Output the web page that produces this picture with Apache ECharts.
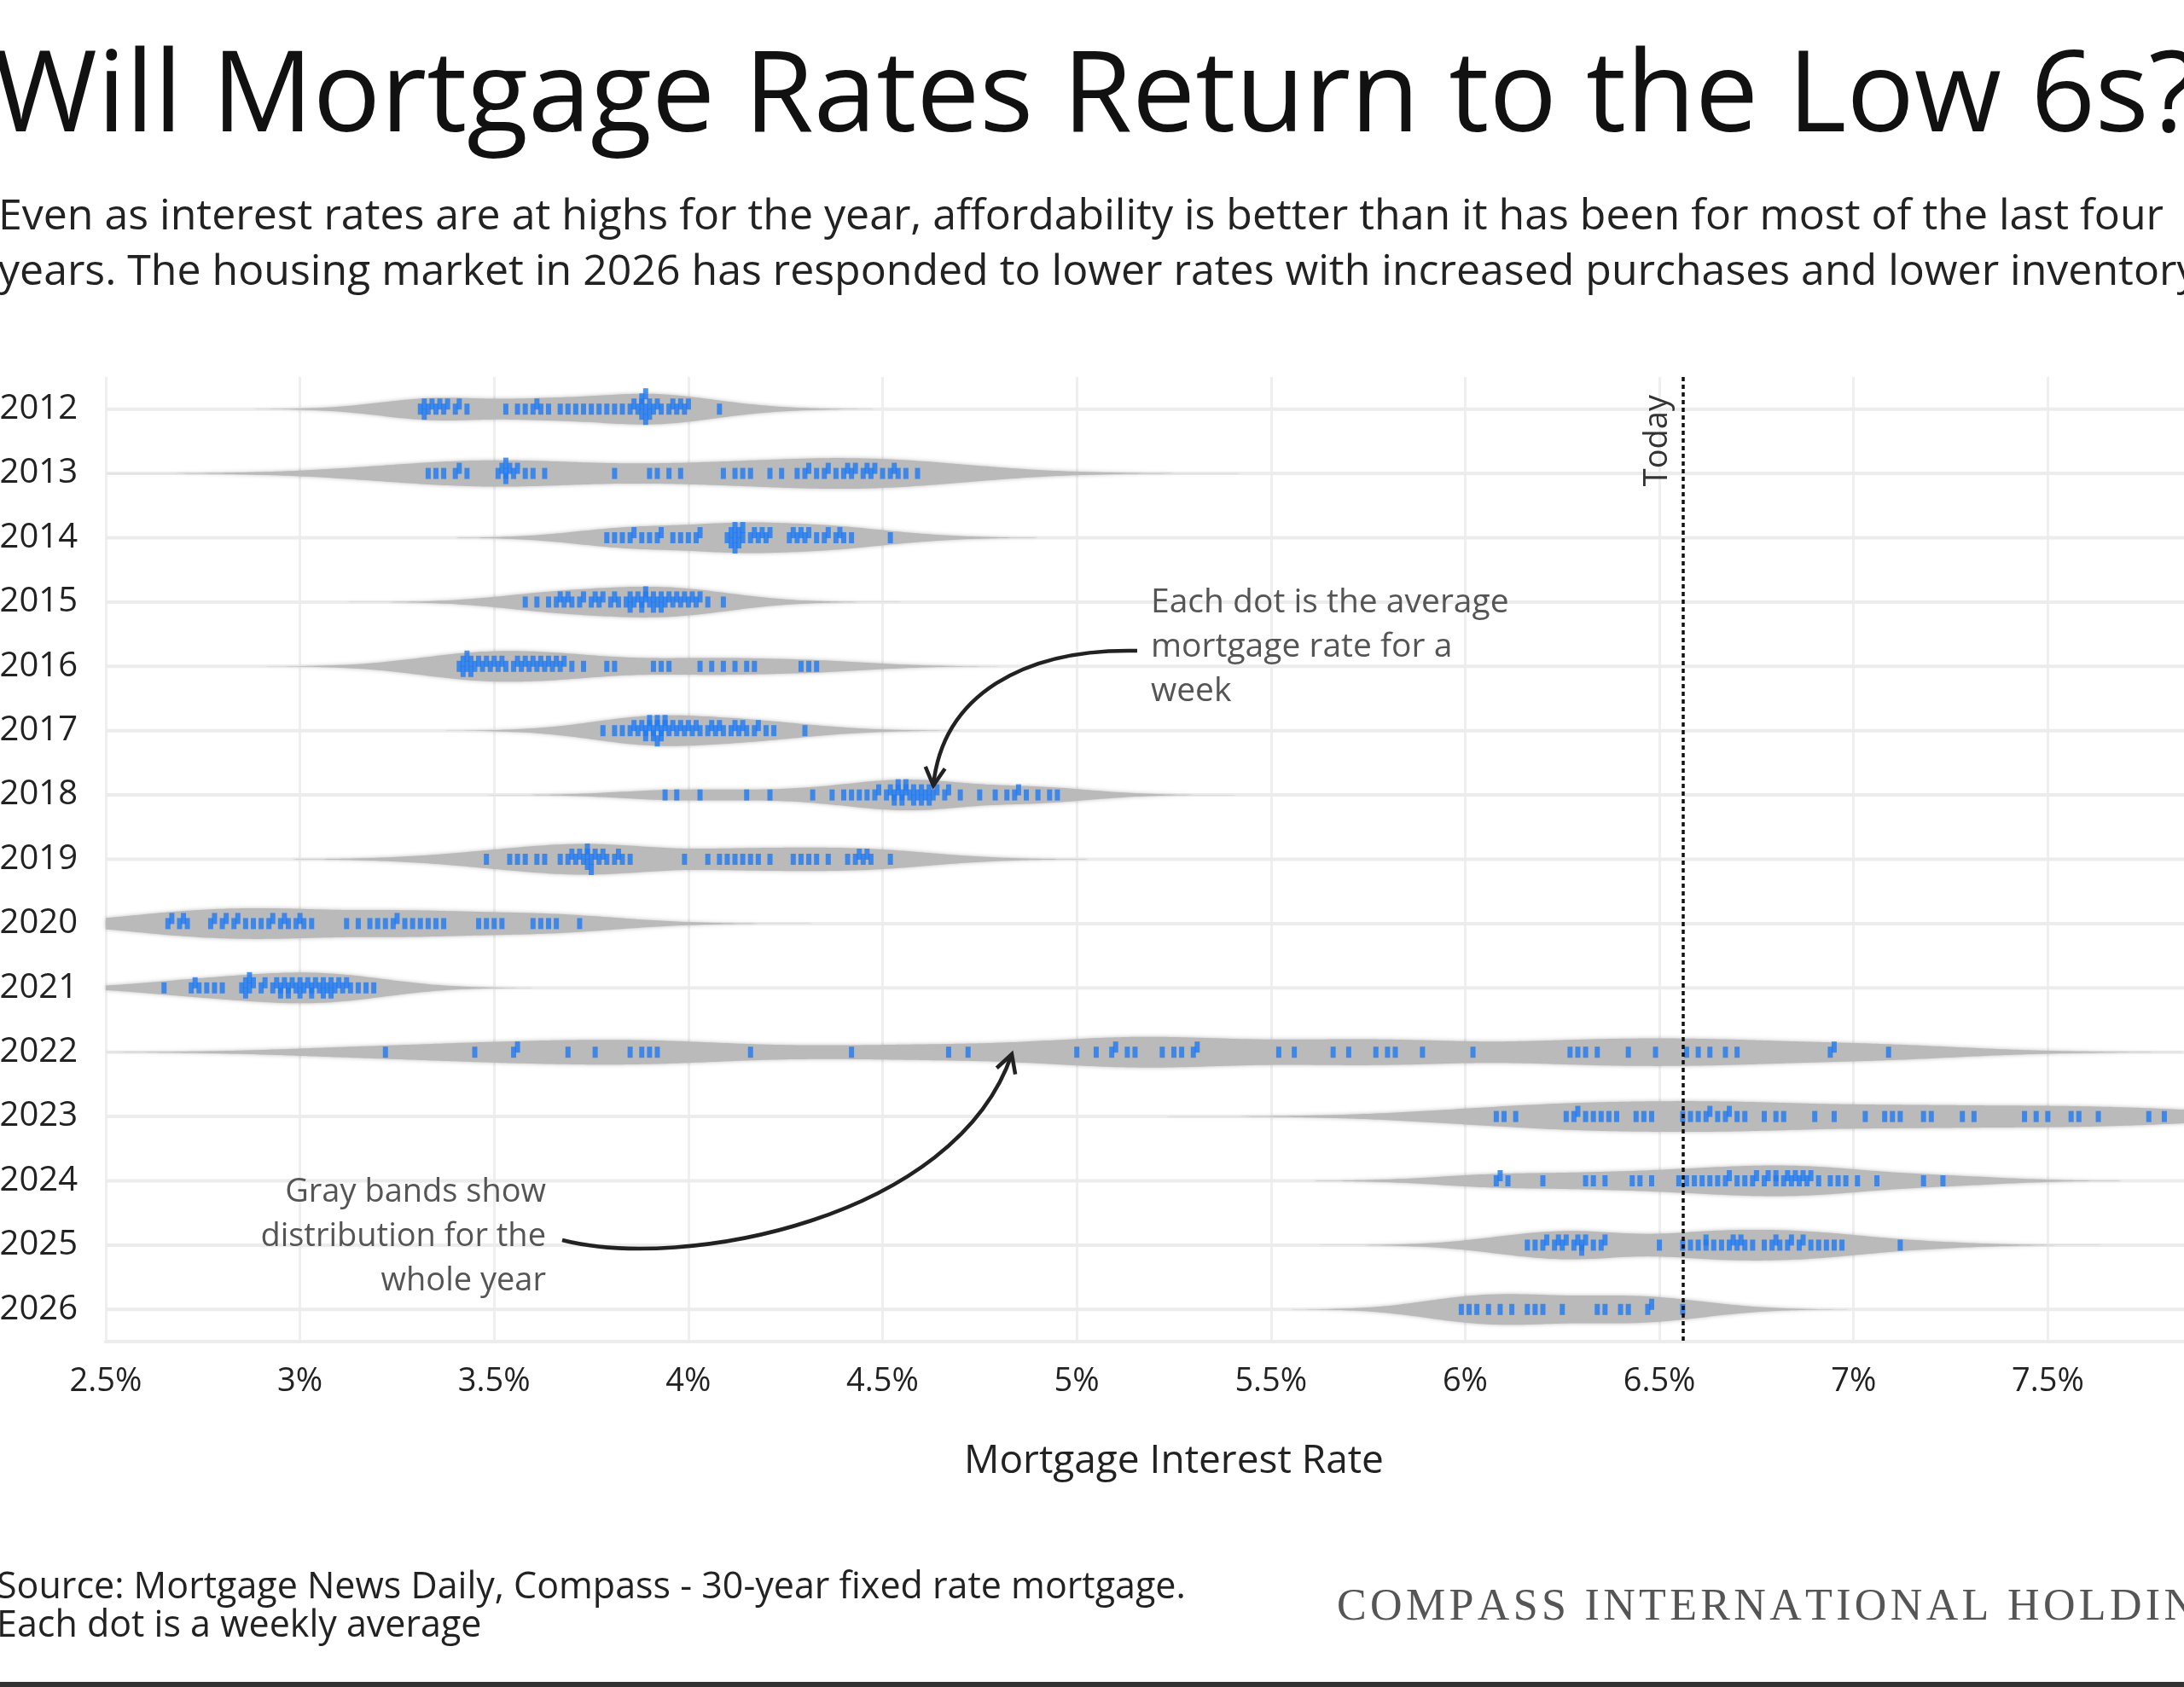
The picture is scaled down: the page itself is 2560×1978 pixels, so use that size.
<!DOCTYPE html>
<html>
<head>
<meta charset="utf-8">
<title>Will Mortgage Rates Return to the Low 6s?</title>
<script src="https://cdn.jsdelivr.net/npm/echarts@6/dist/echarts.min.js"></script>
<style>
    html, body { margin: 0; padding: 0; background: #fff; }
    #chart { width: 2560px; height: 1978px; }
</style>
</head>
<body>
<div id="chart"></div>
<script>
// categories
let years = ['2012', '2013', '2014', '2015', '2016', '2017', '2018', '2019', '2020', '2021', '2022', '2023', '2024', '2025', '2026'];

// weekly average 30-year fixed rates (%)
let rates2012 = [3.31, 3.32, 3.32, 3.33, 3.34, 3.35, 3.36, 3.37, 3.38, 3.40, 3.41, 3.43, 3.53, 3.56, 3.58, 3.60, 3.61, 3.62, 3.64, 3.67,
    3.69, 3.71, 3.73, 3.75, 3.77, 3.79, 3.81, 3.83, 3.85, 3.86, 3.87, 3.88, 3.88, 3.88, 3.89, 3.89, 3.89, 3.90, 3.90, 3.91,
    3.92, 3.93, 3.95, 3.96, 3.97, 3.98, 3.99, 4.00, 4.08];
let rates2013 = [3.33, 3.35, 3.37, 3.40, 3.41, 3.43, 3.51, 3.52, 3.53, 3.53, 3.53, 3.54, 3.55, 3.56, 3.58, 3.60, 3.63, 3.81, 3.90, 3.92,
    3.95, 3.98, 4.09, 4.12, 4.14, 4.16, 4.21, 4.24, 4.28, 4.30, 4.31, 4.33, 4.35, 4.36, 4.38, 4.40, 4.41, 4.42, 4.43, 4.45,
    4.46, 4.47, 4.48, 4.50, 4.52, 4.53, 4.54, 4.56, 4.59];
let rates2014 = [3.79, 3.81, 3.83, 3.85, 3.86, 3.88, 3.90, 3.92, 3.93, 3.96, 3.98, 4.00, 4.02, 4.03, 4.10, 4.11, 4.11, 4.12, 4.12, 4.12,
    4.13, 4.13, 4.14, 4.14, 4.16, 4.17, 4.18, 4.19, 4.20, 4.21, 4.26, 4.27, 4.28, 4.29, 4.30, 4.31, 4.33, 4.35, 4.36, 4.38,
    4.39, 4.40, 4.42, 4.52];
let rates2015 = [3.58, 3.61, 3.64, 3.66, 3.67, 3.68, 3.69, 3.70, 3.72, 3.73, 3.75, 3.76, 3.77, 3.78, 3.80, 3.81, 3.82, 3.84, 3.85, 3.85,
    3.86, 3.87, 3.88, 3.88, 3.89, 3.89, 3.90, 3.91, 3.91, 3.92, 3.93, 3.93, 3.94, 3.95, 3.96, 3.97, 3.98, 3.99, 4.00, 4.01,
    4.02, 4.03, 4.05, 4.09];
let rates2016 = [3.41, 3.42, 3.42, 3.43, 3.43, 3.44, 3.44, 3.45, 3.46, 3.47, 3.48, 3.49, 3.50, 3.51, 3.52, 3.53, 3.55, 3.56, 3.57, 3.58,
    3.59, 3.60, 3.61, 3.62, 3.63, 3.64, 3.65, 3.66, 3.67, 3.68, 3.70, 3.73, 3.79, 3.81, 3.91, 3.93, 3.95, 4.03, 4.06, 4.09,
    4.12, 4.15, 4.17, 4.29, 4.31, 4.33];
let rates2017 = [3.78, 3.81, 3.83, 3.85, 3.86, 3.87, 3.88, 3.89, 3.89, 3.90, 3.90, 3.91, 3.91, 3.92, 3.92, 3.92, 3.93, 3.93, 3.94, 3.94,
    3.95, 3.96, 3.97, 3.98, 3.99, 4.00, 4.01, 4.02, 4.03, 4.05, 4.06, 4.07, 4.08, 4.09, 4.11, 4.12, 4.13, 4.14, 4.15, 4.17,
    4.18, 4.20, 4.22, 4.30];
let rates2018 = [3.94, 3.97, 4.03, 4.15, 4.21, 4.32, 4.37, 4.40, 4.42, 4.44, 4.46, 4.48, 4.49, 4.51, 4.52, 4.53, 4.53, 4.54, 4.54, 4.55,
    4.55, 4.56, 4.56, 4.57, 4.58, 4.58, 4.59, 4.60, 4.60, 4.61, 4.62, 4.62, 4.63, 4.64, 4.66, 4.67, 4.70, 4.75, 4.79, 4.82,
    4.84, 4.85, 4.87, 4.90, 4.93, 4.95];
let rates2019 = [3.48, 3.54, 3.56, 3.58, 3.61, 3.63, 3.67, 3.69, 3.70, 3.71, 3.72, 3.73, 3.74, 3.74, 3.74, 3.75, 3.75, 3.76, 3.77, 3.78,
    3.79, 3.81, 3.82, 3.83, 3.85, 3.99, 4.05, 4.08, 4.10, 4.12, 4.14, 4.16, 4.18, 4.21, 4.27, 4.29, 4.31, 4.33, 4.36, 4.41,
    4.43, 4.44, 4.45, 4.46, 4.47, 4.52];
let rates2020 = [2.66, 2.67, 2.69, 2.70, 2.71, 2.77, 2.78, 2.80, 2.81, 2.83, 2.84, 2.86, 2.88, 2.90, 2.92, 2.93, 2.95, 2.96, 2.97, 2.99,
    3.00, 3.01, 3.03, 3.12, 3.15, 3.18, 3.20, 3.22, 3.24, 3.25, 3.27, 3.29, 3.31, 3.33, 3.35, 3.37, 3.46, 3.48, 3.50, 3.52,
    3.60, 3.62, 3.64, 3.66, 3.72];
let rates2021 = [2.65, 2.72, 2.73, 2.74, 2.76, 2.78, 2.80, 2.85, 2.86, 2.86, 2.87, 2.87, 2.88, 2.90, 2.91, 2.93, 2.94, 2.95, 2.95, 2.96,
    2.97, 2.97, 2.98, 2.99, 3.00, 3.00, 3.01, 3.02, 3.03, 3.03, 3.04, 3.05, 3.06, 3.06, 3.07, 3.08, 3.08, 3.09, 3.10, 3.11,
    3.12, 3.13, 3.15, 3.17, 3.19];
let rates2022 = [3.22, 3.45, 3.55, 3.56, 3.69, 3.76, 3.85, 3.88, 3.90, 3.92, 4.16, 4.42, 4.67, 4.72, 5.00, 5.05, 5.09, 5.10, 5.13, 5.15,
    5.22, 5.25, 5.27, 5.30, 5.31, 5.52, 5.56, 5.66, 5.70, 5.77, 5.80, 5.82, 5.89, 6.02, 6.27, 6.29, 6.31, 6.34, 6.42, 6.49,
    6.57, 6.60, 6.63, 6.67, 6.70, 6.94, 6.95, 7.09];
let rates2023 = [6.08, 6.10, 6.13, 6.26, 6.28, 6.29, 6.31, 6.33, 6.35, 6.37, 6.39, 6.44, 6.46, 6.48, 6.56, 6.58, 6.60, 6.62, 6.63, 6.65,
    6.67, 6.68, 6.70, 6.72, 6.77, 6.80, 6.82, 6.90, 6.95, 7.03, 7.08, 7.10, 7.12, 7.18, 7.20, 7.28, 7.31, 7.44, 7.47, 7.50,
    7.56, 7.58, 7.63, 7.76, 7.80];
let rates2024 = [6.08, 6.09, 6.11, 6.20, 6.31, 6.33, 6.36, 6.43, 6.45, 6.48, 6.55, 6.57, 6.59, 6.61, 6.63, 6.65, 6.67, 6.68, 6.70, 6.72,
    6.74, 6.75, 6.77, 6.78, 6.80, 6.80, 6.82, 6.83, 6.84, 6.85, 6.86, 6.87, 6.88, 6.89, 6.91, 6.94, 6.96, 6.98, 7.01, 7.06,
    7.18, 7.23];
let rates2025 = [6.16, 6.18, 6.20, 6.21, 6.23, 6.24, 6.25, 6.26, 6.28, 6.29, 6.30, 6.30, 6.31, 6.33, 6.35, 6.36, 6.50, 6.56, 6.58, 6.60,
    6.62, 6.62, 6.64, 6.66, 6.68, 6.69, 6.70, 6.71, 6.72, 6.74, 6.77, 6.79, 6.80, 6.81, 6.83, 6.84, 6.86, 6.87, 6.89, 6.91,
    6.93, 6.95, 6.97, 7.12];
let rates2026 = [5.99, 6.01, 6.03, 6.06, 6.09, 6.12, 6.16, 6.18, 6.20, 6.25, 6.34, 6.36, 6.40, 6.42, 6.47, 6.48, 6.56];

let ratesByYear = [rates2012, rates2013, rates2014, rates2015, rates2016, rates2017, rates2018, rates2019,
    rates2020, rates2021, rates2022, rates2023, rates2024, rates2025, rates2026];

// axis: 2.5% .. 8% every 0.5%
let rateMin = 2.5;
let rateMax = 8;
let rateStep = 0.5;
let todayRate = 6.56;

let titleText = 'Will Mortgage Rates Return to the Low 6s?';
let subtitleText = 'Even as interest rates are at highs for the year, affordability is better than it has been for most of the last four\n' +
    'years. The housing market in 2026 has responded to lower rates with increased purchases and lower inventory.';
let sourceText = 'Source: Mortgage News Daily, Compass - 30-year fixed rate mortgage.\nEach dot is a weekly average';
// hair spaces give the wordmark its wide tracking
let brandText = 'COMPASS INTERNATIONAL HOLDINGS'.split('').join('\u200A');

let fontSans = '"Open Sans", Lato, sans-serif';
let blue = '#1f7bf2';
let gray = '#bababa';

// gray bands: gaussian kernel density of each year's weeks
let bandXs = [];
for (let k = 0; k <= Math.round((rateMax - rateMin) / 0.01); k++) {
    bandXs.push(rateMin + k * 0.01);
}
let bandHalf = 18;
let bandPow = 0.5;

function densityOf(values) {
    let n = values.length;
    let mean = values.reduce((a, b) => a + b, 0) / n;
    let sd = Math.sqrt(values.reduce((a, b) => a + (b - mean) * (b - mean), 0) / (n - 1));
    let bw = Math.max(0.1, Math.min(0.9 * sd * Math.pow(n, -0.2), 0.18));
    let d = bandXs.map(x => {
        let s = 0;
        values.forEach(v => { s += Math.exp(-0.5 * Math.pow((x - v) / bw, 2)); });
        return s;
    });
    let max = Math.max.apply(null, d);
    return d.map(v => v / max);
}
let bandDensity = ratesByYear.map(densityOf);

// little beeswarm so close weeks stack up instead of hiding each other
function swarm(values, yearIndex) {
    let placed = [];
    let sorted = values.slice().sort((a, b) => a - b);
    return sorted.map(v => {
        let level = 0;
        for (let step = 0; step < 20; step++) {
            let cand = step === 0 ? 0 : (step % 2 === 1 ? (step + 1) / 2 : -step / 2);
            let hit = placed.some(p => p.level === cand && Math.abs(p.v - v) < 0.013);
            if (!hit) { level = cand; break; }
        }
        placed.push({v: v, level: level});
        return {value: [v, yearIndex], symbolOffset: [0, -level * 6]};
    });
}
let dotData = [];
ratesByYear.forEach((vals, i) => { dotData = dotData.concat(swarm(vals, i)); });

function renderBand(params, api) {
    let i = api.value(1);
    let dens = bandDensity[i];
    let top = [];
    let bottom = [];
    for (let k = 0; k < bandXs.length; k++) {
        let p = api.coord([bandXs[k], i]);
        let h = bandHalf * Math.pow(dens[k], bandPow);
        top.push([p[0], p[1] - h]);
        bottom.unshift([p[0], p[1] + h]);
    }
    return {
        type: 'polygon',
        shape: {points: top.concat(bottom)},
        style: {fill: gray, shadowBlur: 5, shadowColor: 'rgba(0,0,0,0.25)'}
    };
}

function renderRowLine(params, api) {
    let i = api.value(1);
    let y = api.coord([rateMin, i])[1];
    let cs = params.coordSys;
    return {
        type: 'line',
        shape: {x1: cs.x, y1: y, x2: cs.x + cs.width, y2: y},
        style: {stroke: '#ececec', lineWidth: 4}
    };
}

function arrow(p0, c1, c2, p3) {
    let ang = Math.atan2(p3[1] - c2[1], p3[0] - c2[0]);
    let len = 24;
    let spread = 0.5;
    let a = [p3[0] - len * Math.cos(ang - spread), p3[1] - len * Math.sin(ang - spread)];
    let b = [p3[0] - len * Math.cos(ang + spread), p3[1] - len * Math.sin(ang + spread)];
    return [{
        type: 'bezierCurve',
        shape: {x1: p0[0], y1: p0[1], cpx1: c1[0], cpy1: c1[1], cpx2: c2[0], cpy2: c2[1], x2: p3[0], y2: p3[1]},
        style: {stroke: '#222', lineWidth: 4.5, fill: 'none'},
        z: 20
    }, {
        type: 'polyline',
        shape: {points: [a, p3, b]},
        style: {stroke: '#222', lineWidth: 4.5, fill: 'none'},
        z: 20
    }];
}

let chart = echarts.init(document.getElementById('chart'));
let rowIndex = years.map((y, i) => [ratesByYear[i][0], i]);

let option = {
    animation: false,
    backgroundColor: '#fff',
    textStyle: {fontFamily: fontSans},
    title: [{
        text: titleText, left: -8, top: 50, padding: 0,
        textStyle: {fontFamily: fontSans, fontSize: 132, fontWeight: 500, color: '#111'}
    }, {
        text: subtitleText, left: -2, top: 222, padding: 0,
        textStyle: {fontFamily: fontSans, fontSize: 50, lineHeight: 65, fontWeight: 'normal', color: '#222'}
    }, {
        text: sourceText, left: -4, top: 1839, padding: 0,
        textStyle: {fontFamily: fontSans, fontSize: 43, lineHeight: 45, fontWeight: 'normal', color: '#222'}
    }, {
        text: brandText, left: 1567, top: 1859, padding: 0,
        textStyle: {fontFamily: '"Liberation Serif", serif', fontSize: 52, fontWeight: 'normal', color: '#555'}
    }],
    grid: {left: 124, top: 442, width: 2504, height: 1131, outerBoundsMode: 'none', containLabel: false},
    xAxis: {
        type: 'value',
        min: rateMin,
        max: rateMax,
        interval: rateStep,
        name: 'Mortgage Interest Rate',
        nameLocation: 'middle',
        nameGap: 118,
        nameTextStyle: {fontFamily: fontSans, fontSize: 46, color: '#222'},
        axisLine: {show: true, lineStyle: {color: '#ececec', width: 4}},
        axisTick: {show: false},
        axisLabel: {
            formatter: v => v + '%', fontSize: 38, color: '#222', margin: 28,
            showMaxLabel: false, fontFamily: fontSans
        },
        splitLine: {show: true, lineStyle: {color: '#efefef', width: 3}}
    },
    yAxis: {
        type: 'category',
        data: years,
        inverse: true,
        axisLine: {show: false},
        axisTick: {show: false},
        splitLine: {show: false},
        axisLabel: {fontSize: 40, color: '#222', margin: 33, fontFamily: fontSans}
    },
    series: [{
        name: 'rows',
        type: 'custom',
        data: rowIndex,
        encode: {x: 0, y: 1},
        renderItem: renderRowLine,
        silent: true,
        z: 1
    }, {
        name: 'bands',
        type: 'custom',
        data: rowIndex,
        encode: {x: 0, y: 1},
        renderItem: renderBand,
        silent: true,
        z: 2
    }, {
        name: 'weeks',
        type: 'scatter',
        data: dotData,
        symbol: 'rect',
        symbolSize: [6, 13],
        itemStyle: {color: blue},
        z: 3,
        markLine: {
            silent: true,
            symbol: ['none', 'none'],
            label: {show: false},
            lineStyle: {color: '#111', type: [5, 4], width: 3.5},
            data: [{xAxis: todayRate}]
        }
    }],
    graphic: [{
        type: 'text',
        x: 1943, y: 463, rotation: Math.PI / 2,
        style: {text: 'Today', fontFamily: fontSans, fontSize: 38, fill: '#333', align: 'right', verticalAlign: 'middle'},
        z: 20
    }, {
        type: 'text',
        x: 1349, y: 681,
        style: {
            text: 'Each dot is the average\nmortgage rate for a\nweek',
            fontFamily: fontSans, fontSize: 39, lineHeight: 52, fill: '#555', align: 'left', verticalAlign: 'top'
        },
        z: 20
    }, {
        type: 'text',
        x: 640, y: 1372,
        style: {
            text: 'Gray bands show\ndistribution for the\nwhole year',
            fontFamily: fontSans, fontSize: 38, lineHeight: 52, fill: '#555', align: 'right', verticalAlign: 'top'
        },
        z: 20
    }, {
        type: 'rect',
        shape: {x: 0, y: 1972, width: 2560, height: 6},
        style: {fill: '#333'}
    }].concat(
        arrow([1333, 763], [1200, 760], [1105, 815], [1094, 921]),
        arrow([659, 1454], [800, 1490], [1120, 1430], [1186, 1236])
    )
};

chart.setOption(option);
</script>
</body>
</html>
